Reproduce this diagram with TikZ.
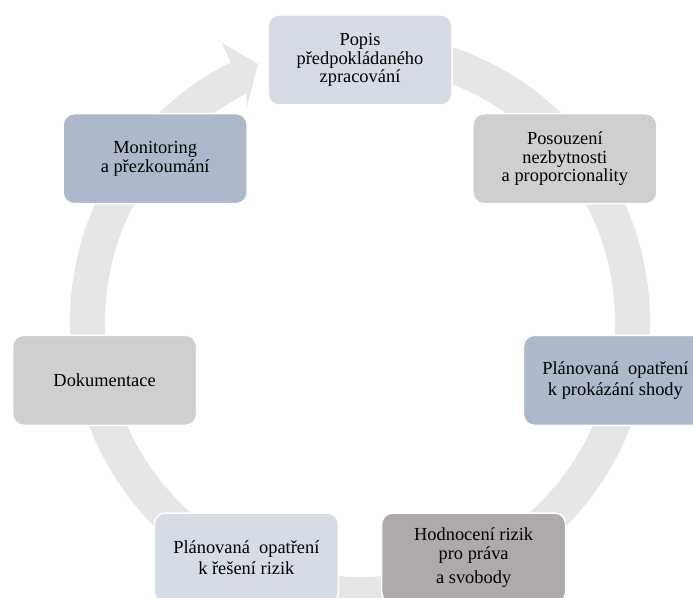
\documentclass[tikz,border=0pt]{standalone}
\usepackage{fontspec}
\setmainfont{Liberation Serif}
\usetikzlibrary{calc}

\definecolor{ringgrey}{HTML}{E6E6E6}
\definecolor{paleblue}{HTML}{D6DCE5}
\definecolor{midblue}{HTML}{ADB9CA}
\definecolor{palegrey}{HTML}{D0CECE}
\definecolor{darkgrey}{HTML}{AEAAAA}

\tikzset{
  stepbox/.style={
    draw=white, line width=1.5pt, rounded corners=11pt,
    minimum width=184pt, minimum height=90pt,
    inner sep=0pt, align=center, text=black,
    font=\fontsize{18.4}{18.5}\selectfont
  },
  widelines/.style={font=\fontsize{18.4}{21}\selectfont}
}

\begin{document}
\begin{tikzpicture}[x=1pt,y=1pt]
  \useasboundingbox (0,0) rectangle (693,597);
  \clip (0,0) rectangle (693,597);
  \fill[white] (0,0) rectangle (693,597);

  \coordinate (c) at (360,275);

  % circular arrow running clockwise behind the steps
  \fill[ringgrey]
    ($(c)+(95:290)$) arc[start angle=95, end angle=-243.5, radius=290]
    -- (222,554) -- (258,533) -- (247,490)
    -- ($(c)+(-243.5:255)$) arc[start angle=-243.5, end angle=95, radius=255]
    -- cycle;

  % the seven steps, evenly spaced on a circle
  \node[stepbox, fill=paleblue] (p1) at ($(c)+(90:262)$)
    {Popis\\předpokládaného\\zpracování};
  \node[stepbox, fill=palegrey] (p2) at ($(c)+(38.57:262)$)
    {Posouzení\\nezbytnosti\\a proporcionality};
  \node[stepbox, widelines, fill=midblue] (p3) at ($(c)+(-12.86:262)$)
    {Plánovaná\ \ opatření\\k prokázání shody};
  \node[stepbox, fill=darkgrey] (p4) at ($(c)+(-64.29:262)$)
    {Hodnocení rizik\\pro práva\\[6pt]a svobody};
  \node[stepbox, widelines, fill=paleblue] (p5) at ($(c)+(-115.71:262)$)
    {Plánovaná\ \ opatření\\k řešení rizik};
  \node[stepbox, fill=palegrey] (p6) at ($(c)+(-167.14:262)$)
    {Dokumentace};
  \node[stepbox, fill=midblue] (p7) at ($(c)+(141.43:262)$)
    {Monitoring\\a přezkoumání};
\end{tikzpicture}
\end{document}
